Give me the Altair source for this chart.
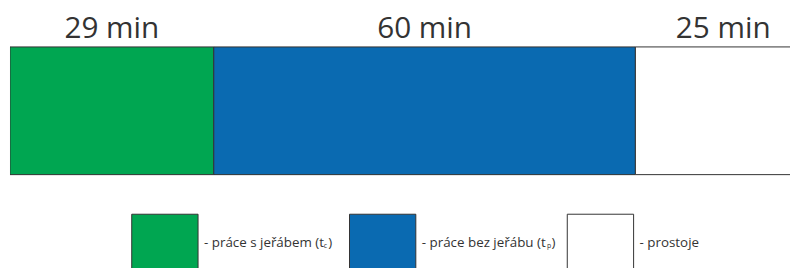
import altair as alt
import pandas as pd

# Segment data
categories = ["práce s jeřábem", "práce bez jeřábu", "prostoje"]
minutes = [29, 60, 25]
labels = ["29 min", "60 min", "25 min"]
colors = ["#00a651", "#0a6ab1", "#ffffff"]

# Legend texts
legend_main = ["- práce s jeřábem (t", "- práce bez jeřábu (t", "- prostoje"]
legend_sub = ["c", "p"]
legend_close = [")", ")"]

starts = []
acc = 0
for m in minutes:
    starts.append(acc)
    acc += m
ends = [s + m for s, m in zip(starts, minutes)]

seg = pd.DataFrame({
    "cat": categories,
    "start": starts,
    "end": ends,
    "label": labels,
})

leg = pd.DataFrame({
    "cat": categories,
    "main": legend_main,
    "idx": [0, 1, 2],
})

subs = pd.DataFrame({
    "sub": legend_sub,
    "close": legend_close,
    "idx": [0, 1],
})

W, H = 788, 260
xscale = alt.Scale(domain=[0, 111], range=[0, W], nice=False, zero=True)
cscale = alt.Scale(domain=categories, range=colors)

bars = alt.Chart(seg).mark_rect(stroke="#333333", strokeWidth=1, clip=True).encode(
    x=alt.X("start:Q", scale=xscale, axis=None),
    x2="end:Q",
    y=alt.value(38),
    y2=alt.value(167),
    color=alt.Color("cat:N", scale=cscale, legend=None),
)

toplabels = alt.Chart(seg).transform_calculate(
    mid="(datum.start + datum.end) / 2"
).mark_text(font="Open Sans", fontSize=30, color="#333333", baseline="alphabetic", align="center").encode(
    x=alt.X("mid:Q", scale=xscale, axis=None),
    y=alt.value(29),
    text="label:N",
)

legbase = alt.Chart(leg).transform_calculate(
    bx="123 + 220 * datum.idx",
    bx2="190 + 220 * datum.idx",
    tx="196 + 220 * datum.idx",
)

legboxes = legbase.mark_rect(stroke="#333333", strokeWidth=1).encode(
    x=alt.X("bx:Q", scale=None),
    x2="bx2:Q",
    y=alt.value(207),
    y2=alt.value(266),
    color=alt.Color("cat:N", scale=cscale, legend=None),
)

legtext = legbase.mark_text(font="Open Sans", fontSize=13.5, color="#333333", baseline="alphabetic", align="left").encode(
    x=alt.X("tx:Q", scale=None),
    y=alt.value(240),
    text="main:N",
)

subbase = alt.Chart(subs).transform_calculate(
    sx="datum.idx == 0 ? 317 : 542.5",
    cx="datum.idx == 0 ? 321.5 : 547",
)

subtext = subbase.mark_text(font="Open Sans", fontSize=7, color="#333333", baseline="alphabetic", align="left").encode(
    x=alt.X("sx:Q", scale=None),
    y=alt.value(241),
    text="sub:N",
)

closetext = subbase.mark_text(font="Open Sans", fontSize=13.5, color="#333333", baseline="alphabetic", align="left").encode(
    x=alt.X("cx:Q", scale=None),
    y=alt.value(240),
    text="close:N",
)

chart = alt.layer(bars, toplabels, legboxes, legtext, subtext, closetext).properties(
    width=W,
    height=H,
    padding={"left": 2, "top": 0, "right": 0, "bottom": 0},
    autosize=alt.AutoSizeParams(type="none"),
).configure_view(stroke=None)

chart.save("out.html", embed_options={"renderer": "svg", "actions": False})
